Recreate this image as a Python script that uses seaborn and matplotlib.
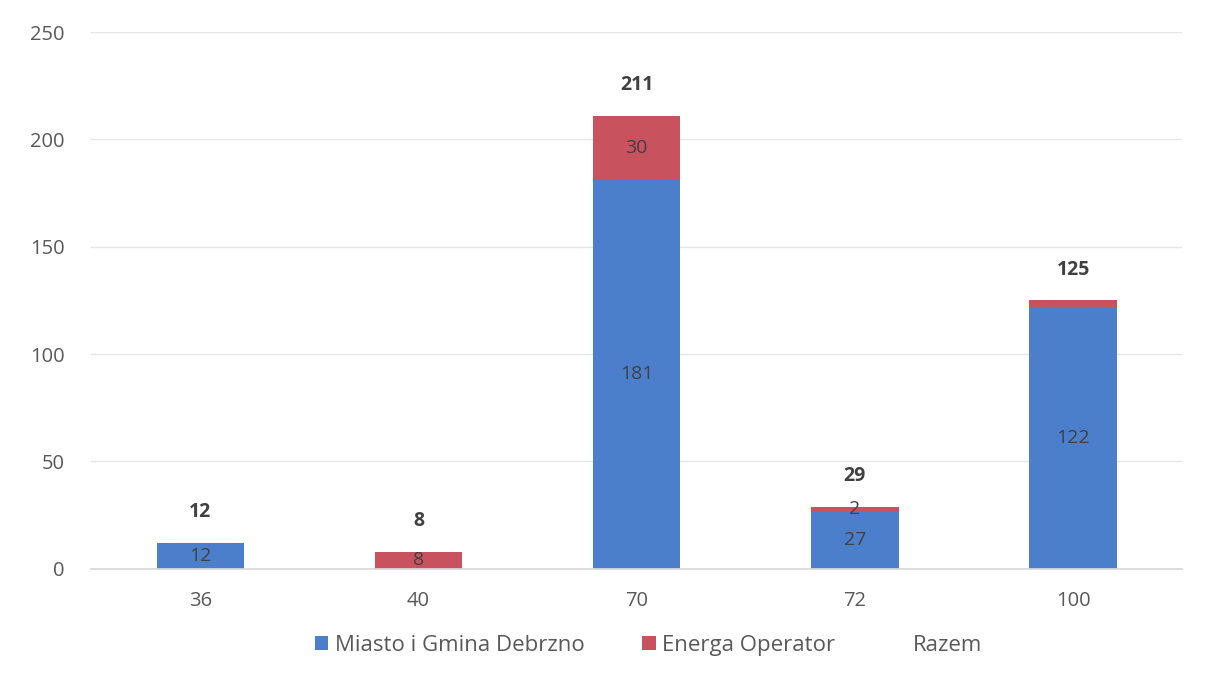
import matplotlib
matplotlib.use("Agg")
import matplotlib.pyplot as plt
from matplotlib.patches import Patch
import seaborn as sns
import pandas as pd

categories = ["36", "40", "70", "72", "100"]
miasto = [12, 0, 181, 27, 122]
energa = [0, 8, 30, 2, 3]
series_names = ["Miasto i Gmina Debrzno", "Energa Operator", "Razem"]
y_ticks = [0, 50, 100, 150, 200, 250]

totals = [m + e for m, e in zip(miasto, energa)]
df = pd.DataFrame({"cat": categories, "miasto": miasto, "energa": energa, "total": totals})

sns.set_theme(style="white")
plt.rcParams["font.family"] = ["Open Sans", "DejaVu Sans"]

blue = "#4c7fcb"
red = "#c9525f"
text_col = "#595959"
label_col = "#404040"

fig = plt.figure(figsize=(12.15, 6.82), dpi=100)
ax = fig.add_axes([0.075, 0.166, 0.898, 0.787])

# full stack height in red, Miasto segment drawn over it in blue
sns.barplot(data=df, x="cat", y="total", color=red, width=0.4, saturation=1,
            ax=ax, order=categories, linewidth=0)
sns.barplot(data=df, x="cat", y="miasto", color=blue, width=0.4, saturation=1,
            ax=ax, order=categories, linewidth=0)

ax.set_ylim(0, 250)
ax.set_xlim(-0.5, len(categories) - 0.5)
ax.set_yticks(y_ticks)
ax.set_xlabel("")
ax.set_ylabel("")
ax.yaxis.grid(True, color="#e6e6e6", linewidth=1.0)
ax.set_axisbelow(True)
for s in ["top", "right", "left"]:
    ax.spines[s].set_visible(False)
ax.spines["bottom"].set_color("#d9d9d9")
ax.tick_params(axis="both", length=0, labelsize=14.5, colors=text_col)
ax.tick_params(axis="x", pad=16)
ax.tick_params(axis="y", pad=19)

# segment labels
for i, (m, e) in enumerate(zip(miasto, energa)):
    if m > 0:
        ax.text(i, m / 2, str(m), ha="center", va="center", fontsize=14, color=label_col)
    if e > 0 and e != 3:
        ax.text(i, m + e / 2, str(e), ha="center", va="center", fontsize=14, color=label_col)
    ax.annotate(str(m + e), xy=(i, m + e), xytext=(0, 22), textcoords="offset points",
                ha="center", va="center", fontsize=14, fontweight="bold", color=label_col)

handles = [Patch(facecolor=blue, edgecolor="none"),
           Patch(facecolor=red, edgecolor="none"),
           Patch(facecolor="none", edgecolor="none")]
fig.legend(handles, series_names, loc="center", bbox_to_anchor=(0.534, 0.054), ncol=3,
           frameon=False, fontsize=16, labelcolor=text_col, handlelength=0.6,
           handleheight=0.6, handletextpad=0.3, columnspacing=2.6)

fig.savefig("out.png", dpi=100, facecolor="white")
